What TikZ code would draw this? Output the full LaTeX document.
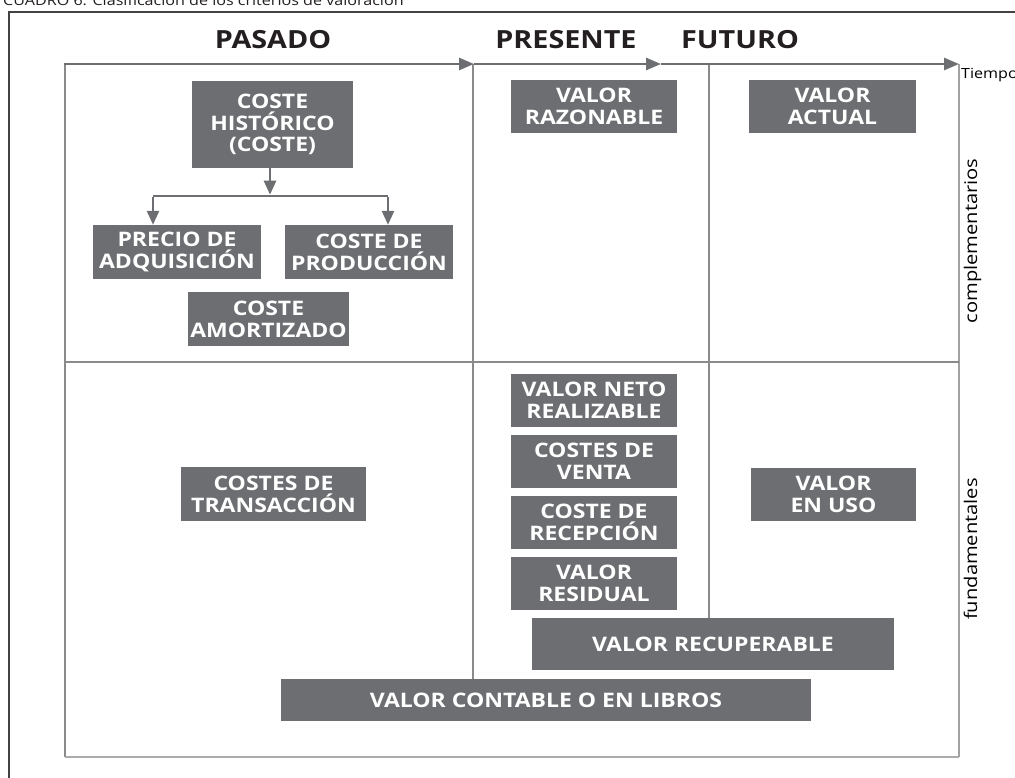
\documentclass[tikz,border=0pt]{standalone}
\usepackage{fontspec}
\setmainfont{Open Sans}
\newfontfamily\wide[FakeStretch=1.15]{Open Sans}
\usetikzlibrary{arrows.meta}
\definecolor{boxgray}{HTML}{6D6E71}
\definecolor{ink}{HTML}{231F20}
\definecolor{framegray}{HTML}{8A8A8A}
\definecolor{lightgray}{HTML}{ABABAB}
\tikzset{
  box/.style={fill=boxgray, text=white, font=\wide\bfseries\fontsize{20}{21.7}\selectfont,
    align=center, inner sep=0pt},
  title/.style={text=ink, font=\wide\bfseries\fontsize{25}{28}\selectfont, inner sep=0pt},
  small/.style={text=black, font=\wide\fontsize{14}{16}\selectfont, inner sep=0pt},
  side/.style={text=black, font=\wide\fontsize{17.5}{19}\selectfont, inner sep=0pt},
  axis/.style={draw=boxgray, line width=2.7pt, -{Triangle[length=15pt,width=12pt]}},
  tree/.style={draw=boxgray, line width=2.6pt},
  treearrow/.style={tree, -{Triangle[length=14pt,width=12pt]}},
  grid/.style={draw=framegray, line width=1.3pt},
}
\begin{document}
\begin{tikzpicture}[x=1pt,y=-1pt]
\useasboundingbox (0,0) rectangle (1015,778);
% caption (cut at top)
\node[small, anchor=base west, text=ink] (cap) at (3,6) {CUADRO 6. Clasificación de los criterios de valoración};
% outer frame
\coordinate (o1) at (9,778);
\coordinate (o2) at (9,12);
\coordinate (o3) at (1015,12);
\draw[draw=ink!85, line width=1.5pt] (o1) -- (o2) -- (o3);
% inner frame
\coordinate (f1) at (65,64);
\coordinate (f2) at (65,757);
\coordinate (f3) at (959,757);
\coordinate (f4) at (959,64);
\draw[grid] (f1) -- (f2);
\draw[draw=lightgray, line width=2pt] (f2) -- (f3);
\draw[draw=framegray!80, line width=1.5pt] (f3) -- (f4);
% dividers
\coordinate (h1) at (65,362);
\coordinate (h2) at (959,362);
\draw[grid] (h1) -- (h2);
\coordinate (v1t) at (473,64);
\coordinate (v1b) at (473,679);
\draw[grid] (v1t) -- (v1b);
\coordinate (v2t) at (709,64);
\coordinate (v2b) at (709,618);
\draw[grid] (v2t) -- (v2b);
% axis
\coordinate (a0) at (64,64);
\coordinate (a1) at (474,64);
\coordinate (a2) at (661,64);
\coordinate (a3) at (959,64);
\draw[axis] (a0) -- (a1);
\draw[axis] (a1) -- (a2);
\draw[axis] (a2) -- (a3);
\node[small, anchor=base west] (tiempo) at (961,79) {Tiempo};
% titles
\node[title, anchor=base] (pasado) at (273,49) {PASADO};
\node[title, anchor=base] (presente) at (566,49) {PRESENTE};
\node[title, anchor=base] (futuro) at (740,49) {FUTURO};
% side labels
\node[side, rotate=90, anchor=base] (compl) at (977,241) {complementarios};
\node[side, rotate=90, anchor=base] (fund) at (977,549) {fundamentales};
% boxes
\node[box, minimum width=161pt, minimum height=87pt] (hist) at (272.5,124.5) {COSTE\\HISTÓRICO\\(COSTE)};
\node[box, minimum width=168pt, minimum height=54pt] (precio) at (177,252) {PRECIO DE\\ADQUISICIÓN};
\node[box, minimum width=168pt, minimum height=54pt] (prod) at (369,252) {COSTE DE\\PRODUCCIÓN};
\node[box, minimum width=161pt, minimum height=54pt] (amort) at (268.5,319) {COSTE\\AMORTIZADO};
\node[box, minimum width=166pt, minimum height=53pt] (razon) at (594,106.5) {VALOR\\RAZONABLE};
\node[box, minimum width=167pt, minimum height=53pt] (actual) at (832.5,106.5) {VALOR\\ACTUAL};
\node[box, minimum width=166pt, minimum height=53pt] (neto) at (594,400.5) {VALOR NETO\\REALIZABLE};
\node[box, minimum width=166pt, minimum height=53pt] (venta) at (594,461.5) {COSTES DE\\VENTA};
\node[box, minimum width=166pt, minimum height=53pt] (recep) at (594,522.5) {COSTE DE\\RECEPCIÓN};
\node[box, minimum width=166pt, minimum height=53pt] (resid) at (594,583.5) {VALOR\\RESIDUAL};
\node[box, minimum width=165pt, minimum height=53pt] (enuso) at (833.5,494.5) {VALOR\\EN USO};
\node[box, minimum width=185pt, minimum height=54pt] (trans) at (273.5,494) {COSTES DE\\TRANSACCIÓN};
\node[box, minimum width=362pt, minimum height=52pt] (recup) at (713,644) {VALOR RECUPERABLE};
\node[box, minimum width=530pt, minimum height=42pt] (contable) at (546,700) {VALOR CONTABLE O EN LIBROS};
% tree connectors
\coordinate (j) at (270,196);
\coordinate (jl) at (153,196);
\coordinate (jr) at (388,196);
\draw[treearrow] (hist.south -| j) -- ([yshift=1.3pt]j);
\draw[tree] (jl) -- (jr);
\draw[treearrow] ([yshift=-1.3pt]jl) -- (precio.north -| jl);
\draw[treearrow] ([yshift=-1.3pt]jr) -- (prod.north -| jr);
\end{tikzpicture}
\end{document}
